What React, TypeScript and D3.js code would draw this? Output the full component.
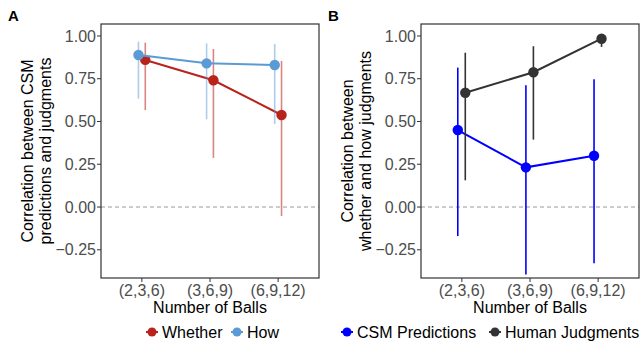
import * as d3 from "d3"

const categories = ["(2,3,6)", "(3,6,9)", "(6,9,12)"]
const yTicks = [-0.25, 0, 0.25, 0.5, 0.75, 1.0]

// panel A
const whetherVal = [0.86, 0.741, 0.538]
const whetherLo = [0.567, 0.287, -0.053]
const whetherHi = [0.961, 0.924, 0.854]
const howVal = [0.889, 0.84, 0.83]
const howLo = [0.633, 0.513, 0.485]
const howHi = [0.967, 0.957, 0.953]

// panel B
const csmVal = [0.45, 0.232, 0.3]
const csmLo = [-0.17, -0.394, -0.329]
const csmHi = [0.815, 0.712, 0.747]
const humanVal = [0.668, 0.788, 0.984]
const humanLo = [0.156, 0.394, 0.936]
const humanHi = [0.902, 0.94, 0.995]

const W = 641
const H = 343
const top = 24
const bottom = 278
const font = "'Liberation Sans', Arial, sans-serif"

type Series = {
  name: string
  color: string
  barColor: string
  val: number[]
  lo: number[]
  hi: number[]
  dodge: number
}

const panels = [
  {
    label: "A",
    left: 101,
    right: 319,
    title: ["Correlation between CSM", "predictions and judgments"],
    series: [
      { name: "Whether", color: "#b8231b", barColor: "rgba(184,35,27,0.55)", val: whetherVal, lo: whetherLo, hi: whetherHi, dodge: 0.05 },
      { name: "How", color: "#5b9bd5", barColor: "rgba(91,155,213,0.5)", val: howVal, lo: howLo, hi: howHi, dodge: -0.05 },
    ] as Series[],
    legendX: [152, 237],
  },
  {
    label: "B",
    left: 421,
    right: 639,
    title: ["Correlation between", "whether and how judgments"],
    series: [
      { name: "CSM Predictions", color: "#0000ff", barColor: "#0000ff", val: csmVal, lo: csmLo, hi: csmHi, dodge: -0.06 },
      { name: "Human Judgments", color: "#333333", barColor: "#333333", val: humanVal, lo: humanLo, hi: humanHi, dodge: 0.05 },
    ] as Series[],
    legendX: [347, 495],
  },
]

const y = d3.scaleLinear().domain([-0.415, 1.07]).range([bottom, top])

function Panel({ p }: { p: (typeof panels)[number] }) {
  const x = d3.scaleLinear().domain([0.4, 3.6]).range([p.left, p.right])
  const midY = (top + bottom) / 2

  return (
    <g>
      <text x={p.left - 93} y={21} fontSize={15} fontWeight="bold" fill="#000" fontFamily={font}>
        {p.label}
      </text>
      {/* zero line */}
      <line x1={p.left} x2={p.right} y1={y(0)} y2={y(0)} stroke="#999" strokeWidth={1} strokeDasharray="4,3" />
      {p.series.map((s) => (
        <g key={s.name}>
          {s.val.map((v, i) => (
            <line
              key={"e" + i}
              x1={x(i + 1 + s.dodge)}
              x2={x(i + 1 + s.dodge)}
              y1={y(s.lo[i])}
              y2={y(s.hi[i])}
              stroke={s.barColor}
              strokeWidth={1.6}
            />
          ))}
          <path
            d={
              d3
                .line<number>()
                .x((_, i) => x(i + 1 + s.dodge))
                .y((d) => y(d))(s.val) || ""
            }
            fill="none"
            stroke={s.color}
            strokeWidth={2}
          />
          {s.val.map((v, i) => (
            <circle key={"p" + i} cx={x(i + 1 + s.dodge)} cy={y(v)} r={5.2} fill={s.color} />
          ))}
        </g>
      ))}
      <rect x={p.left} y={top} width={p.right - p.left} height={bottom - top} fill="none" stroke="#333" strokeWidth={1.2} />
      {/* y axis */}
      {yTicks.map((t) => (
        <g key={t}>
          <line x1={p.left - 4} x2={p.left} y1={y(t)} y2={y(t)} stroke="#333" strokeWidth={1} />
          <text x={p.left - 5} y={y(t)} dy="0.35em" textAnchor="end" fontSize={16} fill="#4d4d4d" fontFamily={font}>
            {t < 0 ? "\u2212" + Math.abs(t).toFixed(2) : t.toFixed(2)}
          </text>
        </g>
      ))}
      {/* x axis */}
      {categories.map((c, i) => (
        <g key={c}>
          <line x1={x(i + 1)} x2={x(i + 1)} y1={bottom} y2={bottom + 4} stroke="#333" strokeWidth={1} />
          <text x={x(i + 1)} y={bottom + 18} textAnchor="middle" fontSize={16} fill="#4d4d4d" fontFamily={font}>
            {c}
          </text>
        </g>
      ))}
      <text x={(p.left + p.right) / 2} y={bottom + 35} textAnchor="middle" fontSize={16} fill="#000" fontFamily={font}>
        Number of Balls
      </text>
      <text transform={`translate(${p.left - 68},${midY}) rotate(-90)`} textAnchor="middle" fontSize={16} fill="#000" fontFamily={font}>
        <tspan x={0} dy={0}>{p.title[0]}</tspan>
        <tspan x={0} dy={18}>{p.title[1]}</tspan>
      </text>
      {/* legend */}
      {p.series.map((s, k) => (
        <g key={"l" + s.name} transform={`translate(${p.legendX[k]},332)`}>
          <line x1={-6} x2={6} y1={0} y2={0} stroke={s.color} strokeWidth={2} />
          <circle r={4.5} fill={s.color} />
          <text x={10} y={0} dy="0.35em" fontSize={16} fill="#000" fontFamily={font}>
            {s.name}
          </text>
        </g>
      ))}
    </g>
  )
}

export default function App() {
  return (
    <svg width={W} height={H} style={{ position: "absolute", left: 0, top: 0, background: "#fff" }}>
      {panels.map((p) => (
        <Panel key={p.label} p={p} />
      ))}
    </svg>
  )
}
